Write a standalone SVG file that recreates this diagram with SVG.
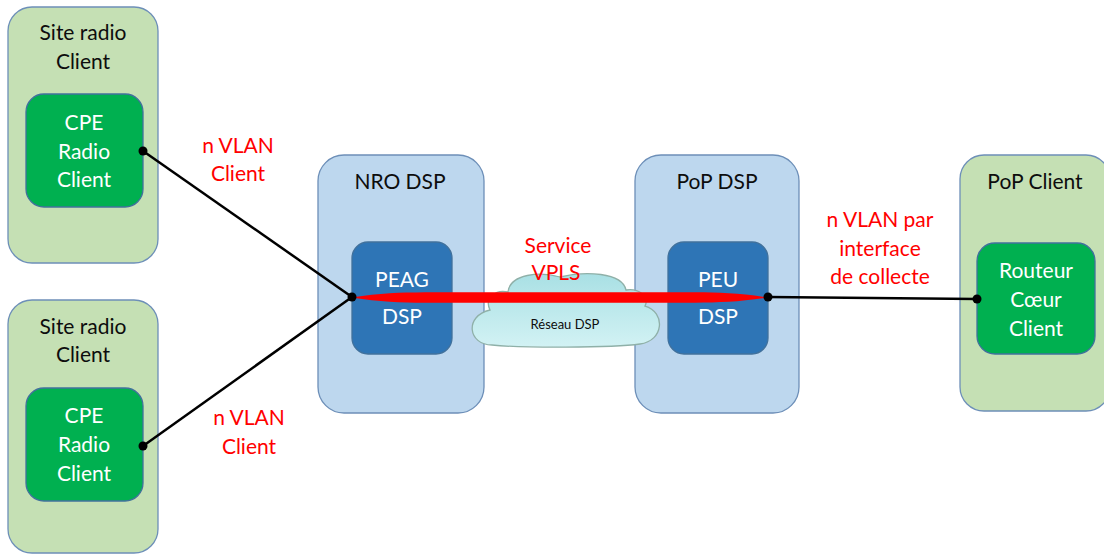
<svg xmlns="http://www.w3.org/2000/svg" width="1104" height="555" viewBox="0 0 1104 555">
<defs>
<style>
.og{fill:#c5e0b4;stroke:#6d8fb8;stroke-width:1.3}
.ig{fill:#00b050;stroke:#41719c;stroke-width:1.3}
.ob{fill:#bdd7ee;stroke:#6d8fb8;stroke-width:1.3}
.ib{fill:#2e75b6;stroke:#41719c;stroke-width:1.3}
text{font-family:Lato,"Liberation Sans",sans-serif;font-size:21px;text-anchor:middle}
.dk{fill:#0d0d0d}
.wt{fill:#ffffff}
.rd{fill:#ff0000}
.ln{stroke:#000;stroke-width:2.5;fill:none}
</style>
<linearGradient id="cg" x1="0" y1="0" x2="0" y2="1">
<stop offset="0" stop-color="#a9e0e4"/>
<stop offset="1" stop-color="#d2f2f4"/>
</linearGradient>
</defs>
<g id="site1">
<rect class="og" x="8" y="7" width="150" height="256" rx="24"/>
<text class="dk" x="83" y="40">Site radio</text>
<text class="dk" x="83" y="69">Client</text>
</g>
<g id="cpe1">
<rect class="ig" x="26" y="94" width="117" height="113" rx="18"/>
<text class="wt" x="84" y="130">CPE</text>
<text class="wt" x="84" y="159">Radio</text>
<text class="wt" x="84" y="187">Client</text>
</g>
<g id="site2">
<rect class="og" x="8" y="300" width="150" height="253" rx="24"/>
<text class="dk" x="83" y="334">Site radio</text>
<text class="dk" x="83" y="362">Client</text>
</g>
<g id="cpe2">
<rect class="ig" x="26" y="388" width="117" height="113" rx="18"/>
<text class="wt" x="84" y="423">CPE</text>
<text class="wt" x="84" y="452">Radio</text>
<text class="wt" x="84" y="481">Client</text>
</g>
<g id="nro">
<rect class="ob" x="318" y="155" width="166" height="258" rx="26"/>
<text class="dk" x="400" y="189">NRO DSP</text>
</g>
<g id="peag">
<rect class="ib" x="352" y="242" width="100" height="112" rx="16"/>
<text class="wt" x="402" y="287">PEAG</text>
<text class="wt" x="402" y="324">DSP</text>
</g>
<g id="popdsp">
<rect class="ob" x="635" y="155" width="164" height="258" rx="26"/>
<text class="dk" x="717" y="189">PoP DSP</text>
</g>
<g id="peu">
<rect class="ib" x="668" y="242" width="100" height="112" rx="16"/>
<text class="wt" x="718" y="287">PEU</text>
<text class="wt" x="718" y="324">DSP</text>
</g>
<g id="popclient">
<rect class="og" x="960" y="155" width="150" height="256" rx="24"/>
<text class="dk" x="1035" y="189">PoP Client</text>
</g>
<g id="routeur">
<rect class="ig" x="977" y="243" width="118" height="111" rx="18"/>
<text class="wt" x="1036" y="278">Routeur</text>
<text class="wt" x="1036" y="307">Cœur</text>
<text class="wt" x="1036" y="336">Client</text>
</g>
<g id="cloud">
<path d="M492 345 C468 345 464 316 490 310 C484 298 496 289 508 292 C510 274 540 271 560 277 C585 271 622 272 626 290 C638 288 650 296 645 306 C666 312 664 341 640 344 C612 348 520 348 492 345 Z" fill="url(#cg)" stroke="#8fb0a8" stroke-width="1.3"/>
<text class="dk" x="565" y="329" style="font-size:13px">Réseau DSP</text>
</g>
<g id="connectors">
<line class="ln" x1="143" y1="151" x2="352" y2="297"/>
<line class="ln" x1="143" y1="446" x2="352" y2="297"/>
<line class="ln" x1="768" y1="297" x2="977" y2="299"/>
<path d="M352 297.5 C380 293 400 292.5 425 292.2 L695 292.2 C720 292.5 740 293 768 297.5 C740 302 720 302.5 695 302.8 L425 302.8 C400 302.5 380 302 352 297.5 Z" fill="#ff0000"/>
<circle cx="143" cy="151" r="4.5" fill="#000"/>
<circle cx="143" cy="446" r="4.5" fill="#000"/>
<circle cx="352" cy="297" r="4.5" fill="#000"/>
<circle cx="768" cy="297" r="4.5" fill="#000"/>
<circle cx="977" cy="299" r="4.5" fill="#000"/>
</g>
<g id="labels">
<text class="rd" x="238" y="153">n VLAN</text>
<text class="rd" x="238" y="181">Client</text>
<text class="rd" x="249" y="425">n VLAN</text>
<text class="rd" x="249" y="454">Client</text>
<text class="rd" x="880" y="227">n VLAN par</text>
<text class="rd" x="880" y="256">interface</text>
<text class="rd" x="880" y="284">de collecte</text>
<text class="rd" x="558" y="253">Service</text>
<text class="rd" x="556" y="280">VPLS</text>
</g>
</svg>
